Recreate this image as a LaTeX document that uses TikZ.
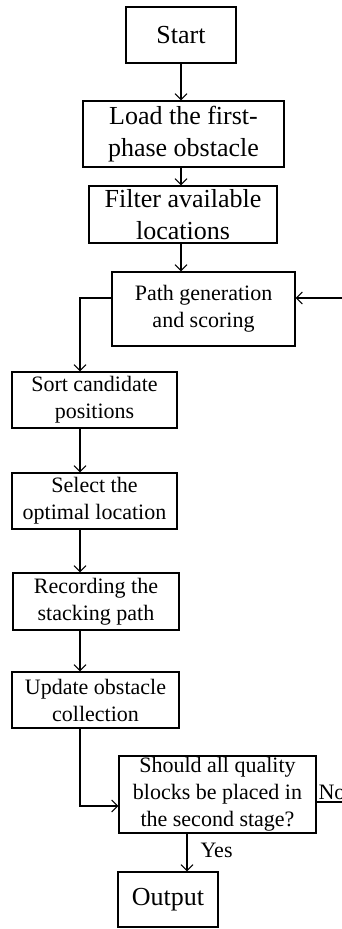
\documentclass[tikz,border=0pt]{standalone}
\usepackage{fontspec}
\setmainfont{Liberation Serif}
\usetikzlibrary{arrows.meta}

\begin{document}
\begin{tikzpicture}[x=1pt,y=-1pt,line width=1.1pt,
        >={Straight Barb[length=6pt,width=12pt]},
        box/.style={shape=rectangle,draw=black,inner sep=0pt,align=center},
        big/.style={font=\fontsize{26}{32}\selectfont},
        small/.style={font=\fontsize{22}{27}\selectfont}]
            \useasboundingbox (0,0) rectangle (342,929);

            \node[box,big,minimum width=110pt,minimum height=56pt] (start) at (181,35) {Start};
            \node[box,big,minimum width=201pt,minimum height=66pt] (load) at (183.5,134) {Load the first-\\phase obstacle};
            \node[box,big,minimum width=188pt,minimum height=57pt] (filter) at (183,214.5) {Filter available\\locations};
            \node[box,small,minimum width=183pt,minimum height=74pt] (gen) at (203.5,309) {Path generation\\and scoring};
            \node[box,small,minimum width=165pt,minimum height=56pt] (sort) at (94.5,400) {Sort candidate\\positions};
            \node[box,small,minimum width=165pt,minimum height=56pt] (select) at (94.5,501) {Select the\\optimal location};
            \node[box,small,minimum width=166pt,minimum height=57pt] (record) at (96,601.5) {Recording the\\stacking path};
            \node[box,small,minimum width=167pt,minimum height=56pt] (update) at (95.5,700) {Update obstacle\\collection};
            \node[box,small,minimum width=197pt,minimum height=77pt] (check) at (217.5,794.5) {Should all quality\\blocks be placed in\\the second stage?};
            \node[box,big,minimum width=100pt,minimum height=55pt] (output) at (168,899.5) {Output};
            \node[small,anchor=base west,inner sep=0pt] (no) at (318,799) {No};

            \coordinate (lane) at (80,0);

            \path [->] (start.south) edge (start.south |- load.north);
            \path [->] (start.south |- load.south) edge (start.south |- filter.north);
            \path [->] (start.south |- filter.south) edge (start.south |- gen.north);
            \draw [->] ([yshift=11pt]gen.west) -| (sort.north -| lane);
            \path [->] (sort.south -| lane) edge (select.north -| lane);
            \path [->] (select.south -| lane) edge (record.north -| lane);
            \path [->] (record.south -| lane) edge (update.north -| lane);
            \draw [->] (update.south -| lane) |- ([yshift=-11.5pt]check.west);
            \path [->] ([xshift=-30.5pt]check.south) edge node[small,anchor=west,inner sep=0pt,xshift=13pt,yshift=2pt] {Yes} ([xshift=-30.5pt]check.south |- output.north);

            % back to path generation when the answer is no
            \draw [->] ([yshift=-7.5pt]check.east) -- ++(44,0) |- ([yshift=11pt]gen.east);
        \end{tikzpicture}
\end{document}
